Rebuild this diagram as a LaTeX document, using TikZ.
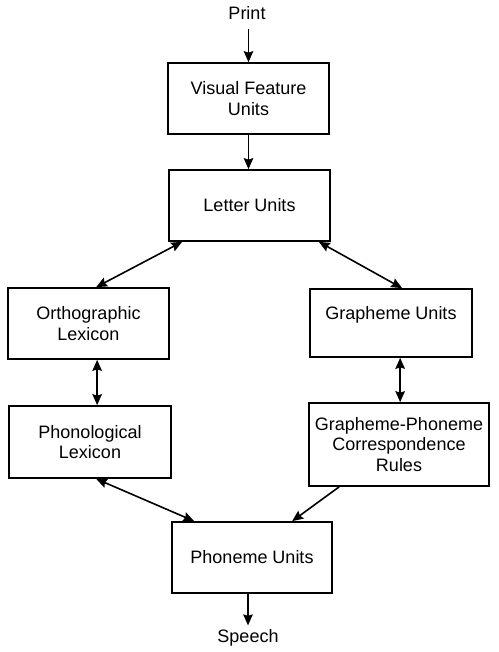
\documentclass[tikz,border=0pt]{standalone}
\usepackage{fontspec}
\setmainfont{Liberation Sans}
\usetikzlibrary{arrows.meta}
\begin{document}
\begin{tikzpicture}[x=1pt,y={(0pt,-1pt)},
  box/.style={draw=black,line width=1.7pt,inner sep=0pt,align=center,
    font=\fontsize{18}{20.5}\selectfont},
  lbl/.style={inner sep=0pt,font=\fontsize{18}{20.5}\selectfont},
  conn/.style={line width=1.6pt,-{Stealth[length=11pt,width=9.5pt,inset=1.5pt]}},
  bconn/.style={line width=1.6pt,{Stealth[length=11pt,width=9.5pt,inset=1.5pt]}-{Stealth[length=11pt,width=9.5pt,inset=1.5pt]}}]
\useasboundingbox (0,0) rectangle (498,652);
\node[lbl] (print) at (247,13) {Print};
\node[box,minimum width=161pt,minimum height=71pt] (vfu) at (248.5,98.5) {Visual Feature\\Units};
\node[box,minimum width=161pt,minimum height=71pt] (lu) at (249.5,205.5) {Letter Units};
\node[box,minimum width=161pt,minimum height=71pt] (ol) at (88.5,323.5) {Orthographic\\Lexicon};
\node[box,minimum width=162pt,minimum height=68pt] (gu) at (391,323) {Grapheme Units\\\mbox{}};
\node[box,minimum width=162pt,minimum height=72pt] (pl) at (90,442) {Phonological\\Lexicon};
\node[box,minimum width=180pt,minimum height=83pt] (gpc) at (399,444.5) {Grapheme-Phoneme\\Correspondence\\Rules};
\node[box,minimum width=160pt,minimum height=71pt] (pu) at (252,557.5) {Phoneme Units};
\node[lbl] (speech) at (248,638) {Speech};

\draw[conn] ([yshift=-9pt]print.south -| vfu.north) -- (vfu.north);
\draw[conn] (vfu.south) -- (vfu.south |- lu.north);
\draw[bconn] ([xshift=14pt]lu.south west) -- ([xshift=89pt]ol.north west);
\draw[bconn] ([xshift=-12pt]lu.south east) -- ([xshift=93pt]gu.north west);
\draw[bconn] ([xshift=90pt]ol.south west) -- ([xshift=90pt]ol.south west |- pl.north);
\draw[bconn] ([xshift=91pt]gu.south west) -- ([xshift=91pt]gu.south west |- gpc.north);
\draw[bconn] ([xshift=88pt]pl.south west) -- ([xshift=23pt]pu.north west);
\draw[conn] ([xshift=31pt]gpc.south west) -- ([xshift=121pt]pu.north west);
\draw[conn] (pu.south -| speech.north) -- ([yshift=4pt]speech.north);
\end{tikzpicture}
\end{document}
